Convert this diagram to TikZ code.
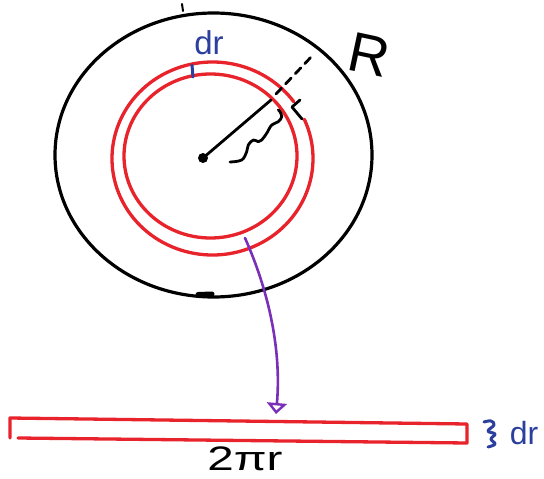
\documentclass[tikz,border=0pt]{standalone}
\usepackage{fontspec}
\setmainfont{Liberation Sans}
\usetikzlibrary{arrows.meta}
\definecolor{penred}{HTML}{E8232B}
\definecolor{penblue}{HTML}{2B3F9E}
\definecolor{penpurple}{HTML}{7A2FB8}
\begin{document}
\begin{tikzpicture}[x=1pt,y=-1pt,line cap=round,line join=round]
\tikzset{
  blackpen/.style={draw=black,line width=3.2pt},
  thinpen/.style={draw=black,line width=2.8pt},
  redpen/.style={draw=penred,line width=3.3pt},
  bluepen/.style={draw=penblue,line width=3pt},
  purplepen/.style={draw=penpurple,line width=2.6pt},
  bluetext/.style={text=penblue,inner sep=0pt},
  blacktext/.style={text=black,inner sep=0pt}
}
\useasboundingbox[fill=white] (0,0) rectangle (544,479);

% outer black circle (radius R)
\draw[blackpen] (213.5,155) ellipse [x radius=158.5, y radius=142];
\draw[thinpen,line width=2pt] (182,4) -- (183,11);
\draw[draw=black,line width=5pt] (198,294.5) -- (212,294);

% red ring
\draw[redpen] (212.5,158.5) ++(-24:100.5 and 96.5)
  arc[start angle=-24, end angle=324, x radius=100.5, y radius=96.5];
\draw[redpen] (210.5,156) ellipse [x radius=86.5, y radius=82];

% thickness tick dr
\draw[bluepen] (192,65) -- (193,77);
\node[bluetext,font=\fontsize{33}{33}\selectfont] (dr1) at (209,43) {dr};

% centre and radii
\node[circle,fill=black,inner sep=0pt,minimum size=10pt] (dot) at (203,158) {};
\coordinate (rend) at (271,100);
\coordinate (dstart) at (276,94);
\coordinate (Rend) at (313,55);
\draw[thinpen] (dot.center) -- (rend);
\draw[thinpen,dash pattern=on 8pt off 6pt] (dstart) -- (Rend);
\draw[thinpen] (300,100) -- (292,107) -- (302,119);

% squiggly brace for r
\draw[thinpen] plot[smooth,tension=0.6] coordinates {(230,162) (241.7,160) (246.7,151.7) (248.3,145) (253.3,140) (258.3,141.7) (261.7,140) (266.7,133.3) (271.7,125) (278.3,121.7) (281.7,116.7) (280,111.7) (278.3,110)};

\node[blacktext,font=\fontsize{56}{56}\selectfont,rotate=-12] (Rlab) at (369,55) {R};

% unrolled ring
\draw[redpen] (10,438) -- (10,418) -- (467,424) -- (467,443) -- (18,438);

% arrow from ring to strip
\coordinate (ringpt) at (245,238);
\coordinate (bartop) at (276,414);
\draw[purplepen,-{Triangle[open,length=11pt,width=20pt,line width=2.4pt]}] (ringpt) .. controls (266,285) and (282,345) .. (bartop);

\node[blacktext,font=\fontsize{34}{34}\selectfont,xscale=1.4,anchor=base] (circ) at (245,470) {2πr};

% thickness of strip
\draw[bluepen] plot[smooth,tension=0.7] coordinates {(484,422) (491,421) (494,425) (488,431) (495,434) (491,439) (495,444) (488,447)};
\node[bluetext,font=\fontsize{32}{32}\selectfont] (dr2) at (524,433) {dr};
\end{tikzpicture}
\end{document}
